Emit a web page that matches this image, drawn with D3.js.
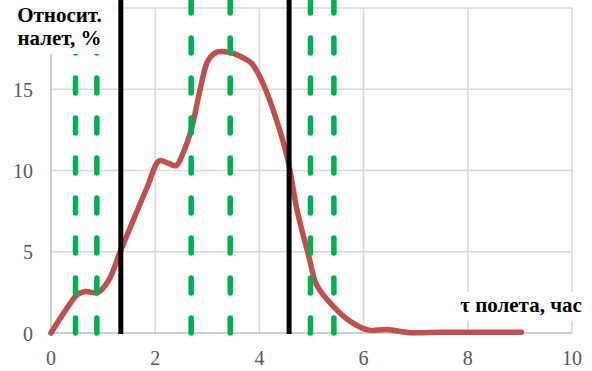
<!DOCTYPE html>
<html>
<head>
<meta charset="utf-8">
<script src="https://cdn.jsdelivr.net/npm/d3@7"></script>
<style>
  body { margin: 0; background: #fff; }
  svg { display: block; }
</style>
</head>
<body>
<svg id="chart" width="592" height="371"></svg>
<script>
// flight time (h) and relative share of flight hours (%)
const tau = [0, 0.3, 0.5, 0.65, 0.9, 1.1, 1.34, 1.6, 1.85, 2.08, 2.25, 2.4, 2.55, 2.7, 2.87,
  3.02, 3.2, 3.45, 3.65, 3.85, 4.07, 4.33, 4.55, 4.72, 4.95, 5.1, 5.4, 5.75, 6.1, 6.45, 6.9, 7.5, 8.2, 9.03];
const share = [0, 1.5, 2.35, 2.55, 2.5, 3.2, 5.1, 7.1, 9.0, 10.6, 10.45, 10.3, 11.2, 12.6, 15.1,
  16.8, 17.3, 17.25, 17.0, 16.6, 15.35, 13.1, 10.6, 7.6, 4.7, 2.95, 1.7, 0.7, 0.18, 0.22, 0.02, 0.05, 0.05, 0.04];

const greenLines = [0.47, 0.88, 2.69, 3.44, 4.98, 5.43];
const blackLines = [1.34, 4.57];

const xTicks = [0, 2, 4, 6, 8, 10];
const yTicks = [0, 5, 10, 15, 20];
const yLabels = [0, 5, 10, 15];

const svg = d3.select("#chart");
const font = "Liberation Serif";

const x = d3.scaleLinear().domain([0, 10]).range([51, 572]);
const y = d3.scaleLinear().domain([0, 20]).range([333, 8]);

// grid
svg.append("g")
  .selectAll("line")
  .data(xTicks.slice(1))
  .join("line")
  .attr("x1", d => x(d)).attr("x2", d => x(d))
  .attr("y1", y(0)).attr("y2", y(20))
  .attr("stroke", "#d9d9d9").attr("stroke-width", 1.5);

svg.append("g")
  .selectAll("line")
  .data(yTicks.slice(1))
  .join("line")
  .attr("x1", x(0)).attr("x2", x(10))
  .attr("y1", d => y(d)).attr("y2", d => y(d))
  .attr("stroke", "#d9d9d9").attr("stroke-width", 1.5);

// axes lines
svg.append("line")
  .attr("x1", x(0)).attr("x2", x(10)).attr("y1", y(0)).attr("y2", y(0))
  .attr("stroke", "#bfbfbf").attr("stroke-width", 1.5);
svg.append("line")
  .attr("x1", x(0)).attr("x2", x(0)).attr("y1", y(0)).attr("y2", y(20))
  .attr("stroke", "#bfbfbf").attr("stroke-width", 1.5);

// tick labels
svg.append("g")
  .selectAll("text")
  .data(xTicks)
  .join("text")
  .attr("x", d => x(d))
  .attr("y", 365)
  .attr("text-anchor", "middle")
  .style("font-family", font).style("font-size", "20px").style("fill", "#595959")
  .text(d => d);

svg.append("g")
  .selectAll("text")
  .data(yLabels)
  .join("text")
  .attr("x", 33)
  .attr("y", d => y(d) + 7.5)
  .attr("text-anchor", "end")
  .style("font-family", font).style("font-size", "20px").style("fill", "#595959")
  .text(d => d);

// curve
const line = d3.line()
  .x((d, i) => x(tau[i]))
  .y(d => y(d))
  .curve(d3.curveCatmullRom.alpha(0.5));

svg.append("path")
  .attr("d", line(share))
  .attr("fill", "none")
  .attr("stroke", "#c0504d")
  .attr("stroke-width", 5.5)
  .attr("stroke-linecap", "round")
  .attr("stroke-linejoin", "round");

// vertical markers
svg.append("g")
  .selectAll("line")
  .data(greenLines)
  .join("line")
  .attr("x1", d => x(d)).attr("x2", d => x(d))
  .attr("y1", y(0)).attr("y2", 0)
  .attr("stroke", "#00b050").attr("stroke-width", 5.5)
  .attr("stroke-linecap", "round")
  .attr("stroke-dasharray", "15,25");

svg.append("g")
  .selectAll("line")
  .data(blackLines)
  .join("line")
  .attr("x1", d => x(d)).attr("x2", d => x(d))
  .attr("y1", y(0) + 1).attr("y2", 0)
  .attr("stroke", "#000").attr("stroke-width", 5);

// axis titles with white backing
svg.append("rect").attr("x", 0).attr("y", 0).attr("width", 117).attr("height", 54).attr("fill", "#fff");
const yt = svg.append("text")
  .attr("text-anchor", "middle")
  .style("font-family", font).style("font-size", "21px").style("font-weight", "bold");
yt.append("tspan").attr("x", 59.5).attr("y", 22).text("Относит.");
yt.append("tspan").attr("x", 59.5).attr("y", 45).text("налет, %");

svg.append("rect").attr("x", 454).attr("y", 292).attr("width", 138).attr("height", 29).attr("fill", "#fff");
svg.append("text")
  .attr("x", 521).attr("y", 312)
  .attr("text-anchor", "middle")
  .style("font-family", font).style("font-size", "21px").style("font-weight", "bold")
  .text("τ полета, час");
</script>
</body>
</html>
